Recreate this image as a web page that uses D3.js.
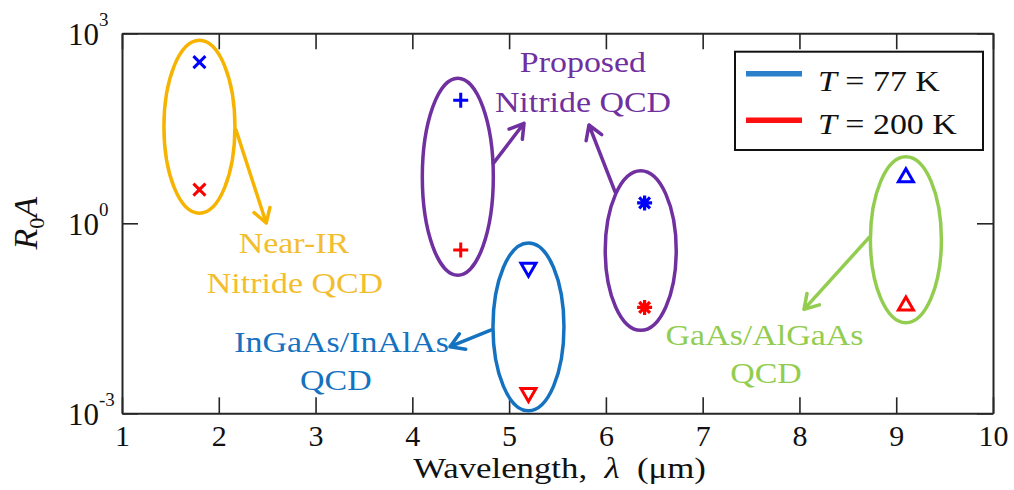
<!DOCTYPE html>
<html>
<head>
<meta charset="utf-8">
<script src="https://cdn.jsdelivr.net/npm/d3@7"></script>
<style>
  html, body { margin: 0; padding: 0; background: #fff; }
  svg { display: block; font-family: "Liberation Serif", "Times New Roman", serif; }
  text { white-space: pre; }
</style>
</head>
<body>
<svg id="chart" width="1014" height="490"></svg>
<script>
// Zero-bias resistance-area product of QCD devices vs. wavelength
const wavelength = [1.8, 4.5, 5.2, 6.4, 9.1];
const r0a77K = [350, 88, 0.2, 2.1, 5.3];
const r0a200K = [3.4, 0.38, 0.0021, 0.047, 0.05];
const markerShapes = ["cross", "plus", "triangleDown", "asterisk", "triangleUp"];
const xTickValues = [1, 2, 3, 4, 5, 6, 7, 8, 9, 10];
const yTickExponents = [-3, 0, 3];
const legendTemps = ["77 K", "200 K"];

const colors = {
  k77: "#0000ff", k200: "#ff0000",
  leg77: "#2b80cc", leg200: "#ff1010",
  orange: "#f6b400", orangeText: "#f3be2e",
  purple: "#7030a0", blue: "#1572c0", green: "#92cd50",
  axis: "#262626"
};

const plot = { left: 122, right: 993, top: 33.3, bottom: 413.3 };
const svg = d3.select("#chart");

const x = d3.scaleLinear().domain([1, 10]).range([plot.left, plot.right]);
const y = d3.scaleLog().domain([1e-3, 1e3]).range([plot.bottom, plot.top]);

// ---- axes (ticks pointing inward, boxed) ----
const tickLen = 16;
const axisStyle = g => {
  g.selectAll("path.domain").attr("stroke", colors.axis).attr("stroke-width", 2);
  g.selectAll(".tick line").attr("stroke", colors.axis).attr("stroke-width", 1.6);
};

svg.append("g")
  .attr("transform", `translate(0,${plot.bottom})`)
  .call(d3.axisBottom(x).tickValues(xTickValues).tickFormat(d3.format("d"))
    .tickSizeInner(-tickLen).tickSizeOuter(0).tickPadding(11.5))
  .call(axisStyle)
  .call(g => g.selectAll(".tick text")
    .attr("font-family", "Liberation Serif, Times New Roman, serif")
    .attr("font-size", 30).attr("fill", "#111"));

svg.append("g")
  .attr("transform", `translate(0,${plot.top})`)
  .call(d3.axisTop(x).tickValues(xTickValues).tickFormat("")
    .tickSizeInner(-tickLen).tickSizeOuter(0))
  .call(axisStyle);

const yTickValues = yTickExponents.map(e => Math.pow(10, e));
svg.append("g")
  .attr("transform", `translate(${plot.left},0)`)
  .call(d3.axisLeft(y).tickValues(yTickValues).tickFormat("")
    .tickSizeInner(-tickLen).tickSizeOuter(0))
  .call(axisStyle);

svg.append("g")
  .attr("transform", `translate(${plot.right},0)`)
  .call(d3.axisRight(y).tickValues(yTickValues).tickFormat("")
    .tickSizeInner(-tickLen).tickSizeOuter(0))
  .call(axisStyle);

// y tick labels as 10^n
yTickExponents.forEach(e => {
  const t = svg.append("text")
    .attr("x", 68).attr("y", y(Math.pow(10, e)) + 11.5)
    .attr("font-size", 31).attr("fill", "#111");
  t.append("tspan").text("10");
  t.append("tspan").attr("font-size", 19).attr("dy", -19).text(String(e));
});

// axis titles
const yl = svg.append("text")
  .attr("transform", `translate(37,${(plot.top + plot.bottom) / 2}) rotate(-90)`)
  .attr("text-anchor", "middle").attr("font-size", 34).attr("fill", "#111");
yl.append("tspan").attr("font-style", "italic").text("R");
yl.append("tspan").attr("font-size", 22).attr("dy", 7).text("0");
yl.append("tspan").attr("font-style", "italic").attr("dy", -7).text("A");

const xl = svg.append("g")
  .attr("transform", `translate(${(plot.left + plot.right) / 2 + 2},477.5) scale(1.16,1)`)
  .append("text").attr("text-anchor", "middle").attr("font-size", 30).attr("fill", "#111");
xl.append("tspan").text("Wavelength,  ");
xl.append("tspan").attr("font-style", "italic").text("λ");
xl.append("tspan").text("  (μm)");

// ---- callout ellipses, arrows and labels ----
const ellipses = [
  { cx: 1.8,  top: Math.pow(10, 2.89),  bottom: Math.pow(10, 0.16),  color: colors.orange },
  { cx: 4.47, top: Math.pow(10, 2.29),  bottom: Math.pow(10, -0.82), color: colors.purple },
  { cx: 5.2,  top: Math.pow(10, -0.31), bottom: Math.pow(10, -2.96), color: colors.blue },
  { cx: 6.36, top: Math.pow(10, 0.83),  bottom: Math.pow(10, -1.69), color: colors.purple },
  { cx: 9.1,  top: Math.pow(10, 1.05),  bottom: Math.pow(10, -1.57), color: colors.green }
];
const ellipseRx = 35.5;

const arrows = [
  { from: [2.178, Math.pow(10, 1.472)],  to: [2.49, Math.pow(10, 0.005)],   color: colors.orange },
  { from: [4.837, Math.pow(10, 0.947)],  to: [5.154, Math.pow(10, 1.579)],  color: colors.purple },
  { from: [6.094, Math.pow(10, 0.499)],  to: [5.825, Math.pow(10, 1.552)],  color: colors.purple },
  { from: [4.81,  Math.pow(10, -1.685)], to: [4.389, Math.pow(10, -1.949)], color: colors.blue },
  { from: [8.722, Math.pow(10, -0.221)], to: [8.047, Math.pow(10, -1.358)], color: colors.green }
];

const labels = [
  { text: "Near-IR",       x: 2.777, y: Math.pow(10, -0.467), color: colors.orangeText },
  { text: "Nitride QCD",   x: 2.787, y: Math.pow(10, -1.099), color: colors.orangeText },
  { text: "Proposed",      x: 5.763, y: Math.pow(10, 2.389),  color: colors.purple },
  { text: "Nitride QCD",   x: 5.763, y: Math.pow(10, 1.757),  color: colors.purple },
  { text: "InGaAs/InAlAs", x: 3.27,  y: Math.pow(10, -2.028), color: colors.blue },
  { text: "QCD",           x: 3.21,  y: Math.pow(10, -2.632), color: colors.blue },
  { text: "GaAs/AlGaAs",   x: 7.639, y: Math.pow(10, -1.922), color: colors.green },
  { text: "QCD",           x: 7.654, y: Math.pow(10, -2.522), color: colors.green }
];

const callouts = svg.append("g");
callouts.selectAll("ellipse").data(ellipses).join("ellipse")
  .attr("cx", d => x(d.cx))
  .attr("cy", d => (y(d.top) + y(d.bottom)) / 2)
  .attr("rx", ellipseRx)
  .attr("ry", d => (y(d.bottom) - y(d.top)) / 2)
  .attr("fill", "none").attr("stroke", d => d.color).attr("stroke-width", 3.5);

arrows.forEach(a => {
  const x1 = x(a.from[0]), y1 = y(a.from[1]);
  const x2 = x(a.to[0]), y2 = y(a.to[1]);
  const ang = Math.atan2(y2 - y1, x2 - x1) + Math.PI;
  const head = 16, spread = 0.55;
  const p = d3.path();
  p.moveTo(x1, y1); p.lineTo(x2, y2);
  p.moveTo(x2 + head * Math.cos(ang - spread), y2 + head * Math.sin(ang - spread));
  p.lineTo(x2, y2);
  p.lineTo(x2 + head * Math.cos(ang + spread), y2 + head * Math.sin(ang + spread));
  callouts.append("path").attr("d", p.toString())
    .attr("fill", "none").attr("stroke", a.color).attr("stroke-width", 3.5)
    .attr("stroke-linecap", "round").attr("stroke-linejoin", "round");
});

labels.forEach(l => {
  callouts.append("g")
    .attr("transform", `translate(${x(l.x)},${y(l.y)}) scale(1.17,1)`)
    .append("text").attr("text-anchor", "middle").attr("font-size", 29)
    .attr("fill", l.color).text(l.text);
});

// ---- markers ----
function markerPath(shape) {
  const p = d3.path();
  if (shape === "cross") {
    const s = 6;
    p.moveTo(-s, -s); p.lineTo(s, s); p.moveTo(-s, s); p.lineTo(s, -s);
  } else if (shape === "plus") {
    const s = 7.5;
    p.moveTo(-s, 0); p.lineTo(s, 0); p.moveTo(0, -s); p.lineTo(0, s);
  } else if (shape === "asterisk") {
    const s = 7.5, d = s * 0.72;
    p.moveTo(-s, 0); p.lineTo(s, 0); p.moveTo(0, -s); p.lineTo(0, s);
    p.moveTo(-d, -d); p.lineTo(d, d); p.moveTo(-d, d); p.lineTo(d, -d);
  } else {
    const side = 15, h = side * Math.sqrt(3) / 2;
    const dir = shape === "triangleUp" ? 1 : -1;
    p.moveTo(0, -dir * 2 * h / 3);
    p.lineTo(side / 2, dir * h / 3);
    p.lineTo(-side / 2, dir * h / 3);
    p.closePath();
  }
  return p.toString();
}

const series = [
  { values: r0a77K, color: colors.k77 },
  { values: r0a200K, color: colors.k200 }
];
const markers = svg.append("g");
series.forEach(s => {
  markers.selectAll(null).data(wavelength.map((w, i) => ({ w, v: s.values[i], shape: markerShapes[i] })))
    .join("path")
    .attr("transform", d => `translate(${x(d.w)},${y(d.v)})`)
    .attr("d", d => markerPath(d.shape))
    .attr("fill", "none").attr("stroke", s.color)
    .attr("stroke-width", d => d.shape === "asterisk" ? 3.2 : 3)
    .attr("stroke-linejoin", "miter");
});

// ---- legend ----
const legend = svg.append("g");
legend.append("rect").attr("x", 735).attr("y", 51.7).attr("width", 248).attr("height", 98.3)
  .attr("fill", "#fff").attr("stroke", "#111").attr("stroke-width", 2);
const legendRows = [
  { label: legendTemps[0], color: colors.leg77, lineY: 73.7, textY: 91 },
  { label: legendTemps[1], color: colors.leg200, lineY: 120.3, textY: 133.5 }
];
legendRows.forEach(r => {
  legend.append("line").attr("x1", 746).attr("x2", 802)
    .attr("y1", r.lineY).attr("y2", r.lineY)
    .attr("stroke", r.color).attr("stroke-width", 5.5);
  const t = legend.append("g").attr("transform", `translate(818,${r.textY}) scale(1.17,1)`)
    .append("text").attr("font-size", 29).attr("fill", "#111");
  t.append("tspan").attr("font-style", "italic").text("T");
  t.append("tspan").text(" = " + r.label);
});
</script>
</body>
</html>
